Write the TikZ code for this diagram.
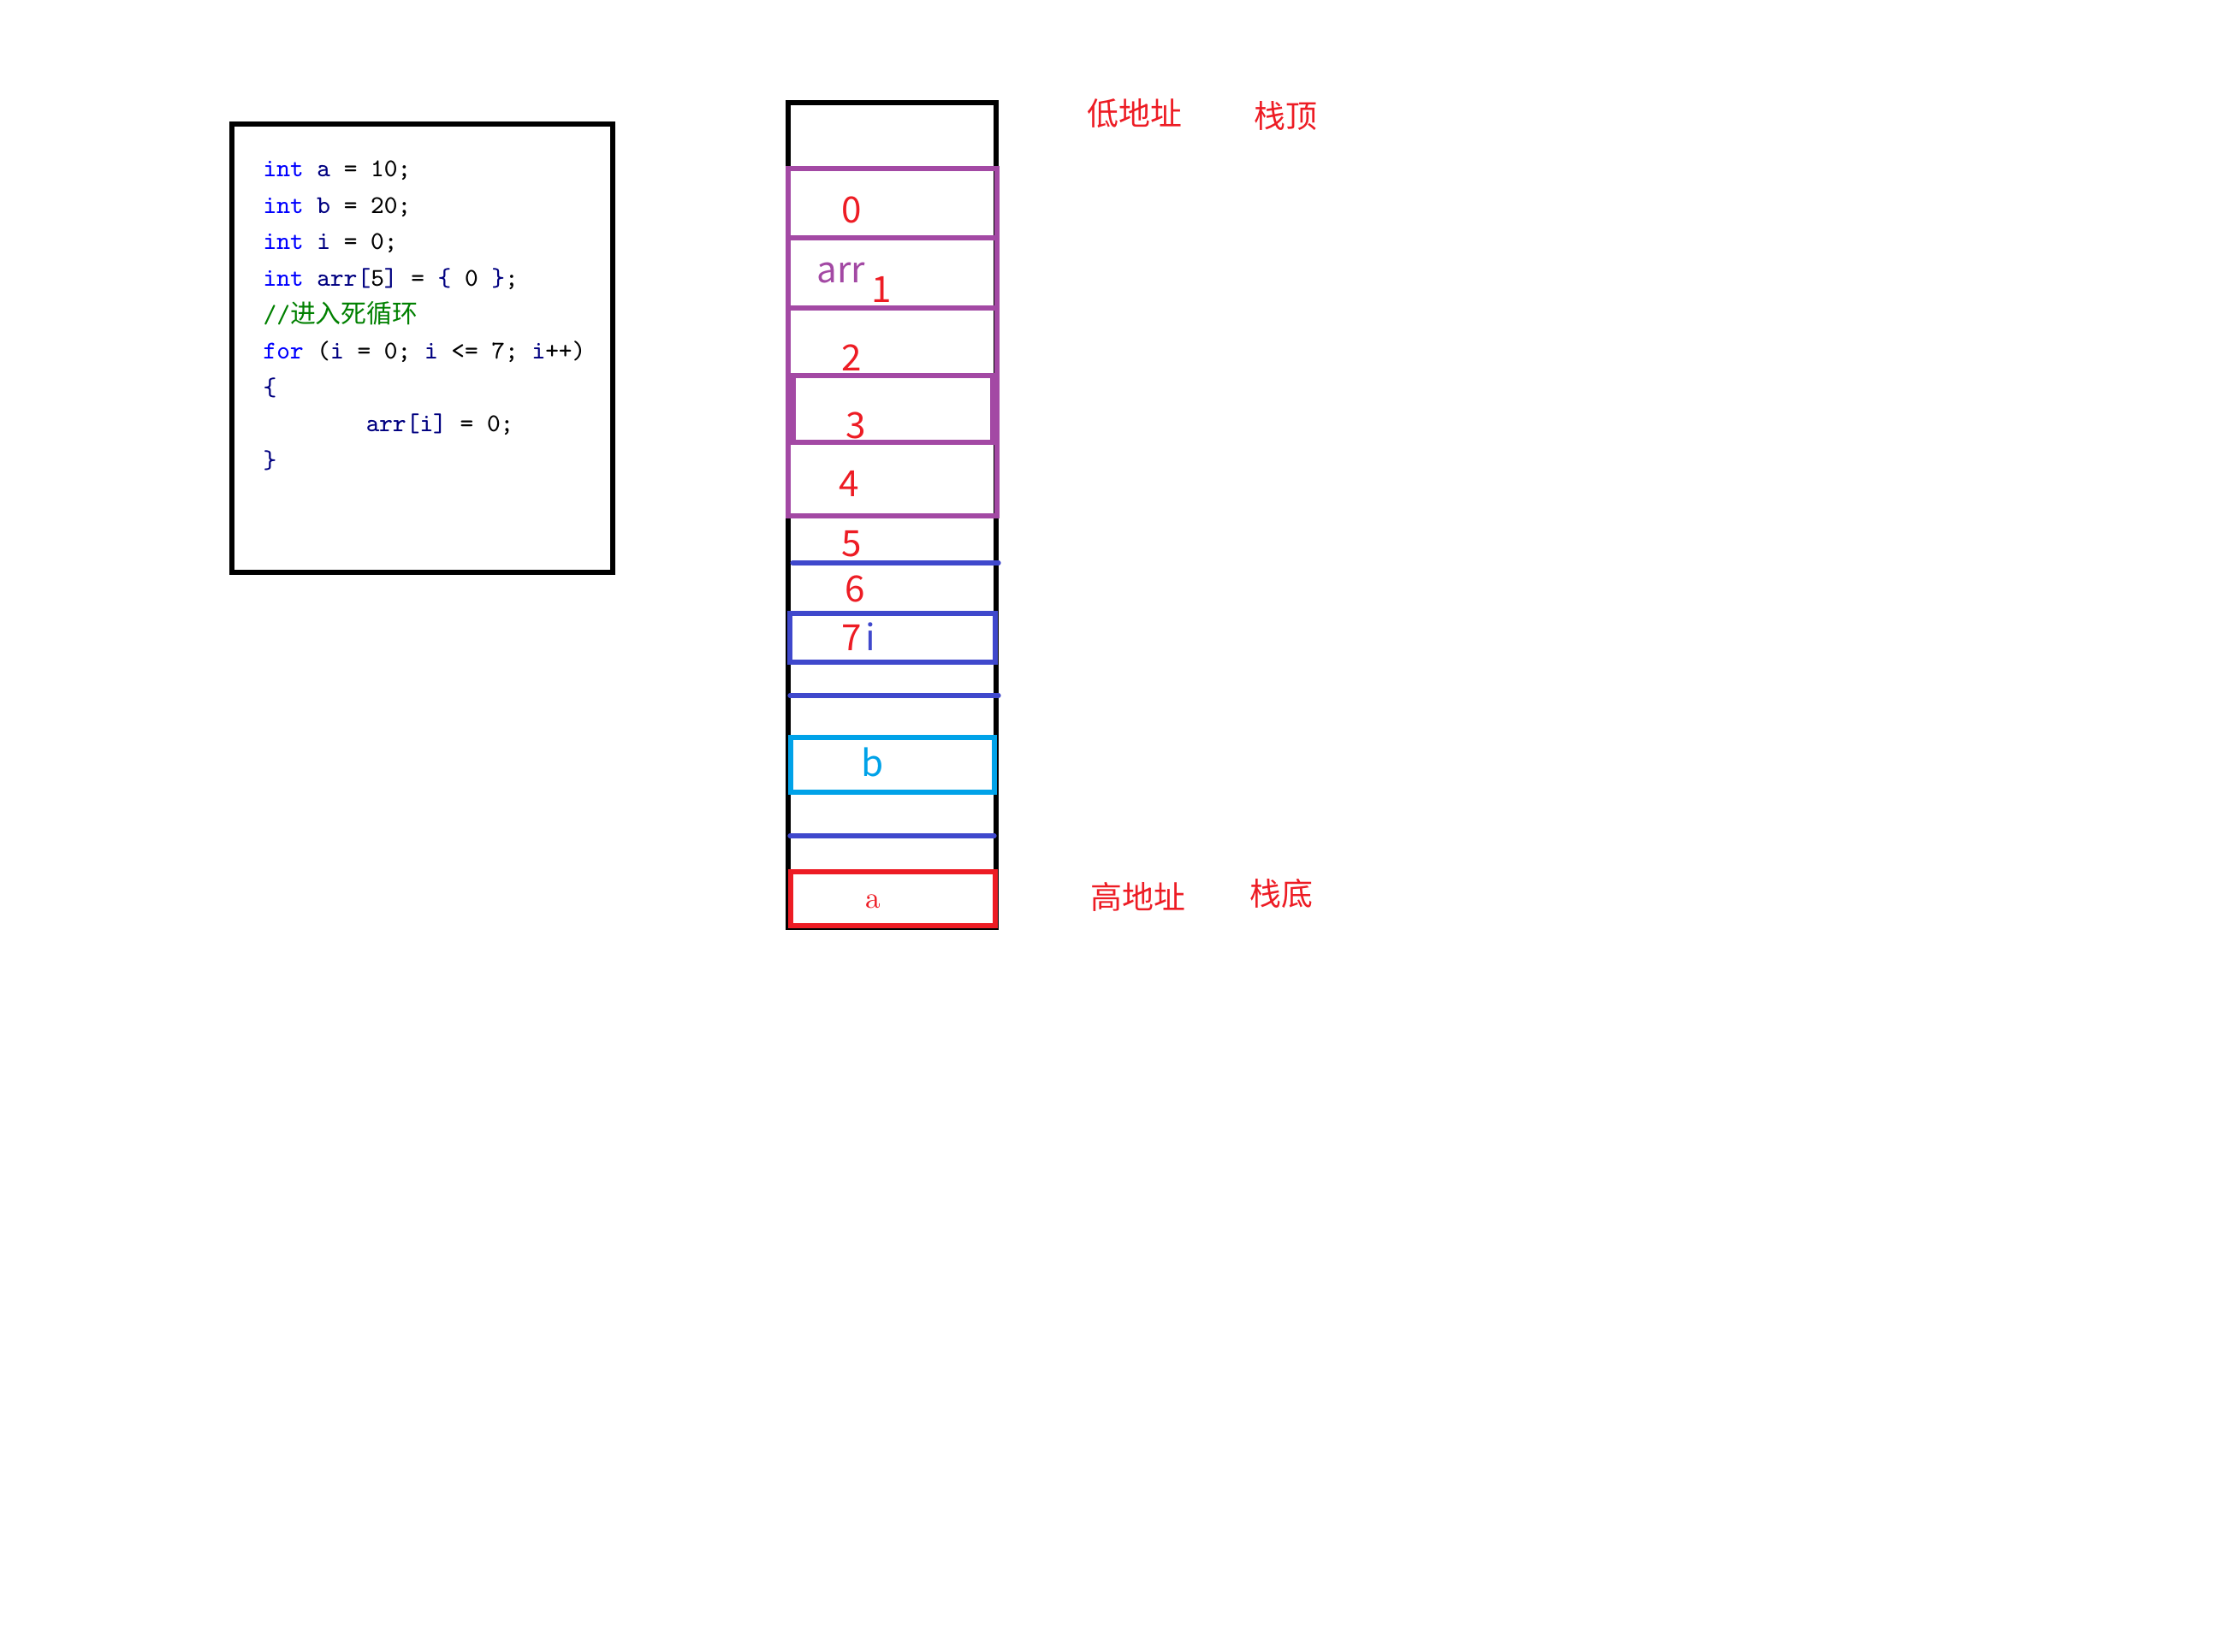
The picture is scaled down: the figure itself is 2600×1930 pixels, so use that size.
\documentclass[tikz,border=0pt]{standalone}
\usepackage{fontspec}
\usepackage{xcolor}
\usepackage{tikz}
\usetikzlibrary{matrix}
\usetikzlibrary{positioning}
\newfontfamily\cjk{Noto Sans CJK SC}
\definecolor{paintred}{HTML}{ED1C24}
\definecolor{paintpurple}{HTML}{A349A4}
\definecolor{paintindigo}{HTML}{3F48CC}
\definecolor{paintcyan}{HTML}{00A2E8}
\definecolor{kwblue}{HTML}{0000FF}
\definecolor{idnavy}{HTML}{000080}
\definecolor{cmtgreen}{HTML}{008000}
\tikzset{>=stealth}
\tikzset{
  codebox/.style={line width=1.6pt},
  stackbox/.style={line width=1.6pt},
  arrcell/.style={draw=paintpurple, line width=1.5pt},
  slotline/.style={draw=paintindigo, line width=1.5pt, line cap=round},
  bslot/.style={draw=paintcyan, line width=1.5pt},
  aslot/.style={draw=paintred, line width=1.5pt},
  idx/.style={font=\cjk\fontsize{12}{12}\selectfont, text=paintred, inner sep=0pt, anchor=base},
  tag/.style={font=\cjk\fontsize{10.5}{10.5}\selectfont, text=paintred, inner sep=0pt}
}

\begin{document}
\begin{tikzpicture}[x=0.01cm,y=-0.01cm]
\useasboundingbox (0,0) rectangle (2600,1930);

\draw[codebox] (271,145) rectangle (716,669);
\matrix (code) [matrix of nodes, anchor=north west, inner sep=0pt, row sep=0pt,
  nodes={anchor=base west, inner sep=0pt, text height=8pt, text depth=4.1pt,
         font=\ttfamily\fontsize{8.5}{12}\selectfont}] at (307,178)
{
  \textcolor{kwblue}{int} \textcolor{idnavy}{a} = 10; \\
  \textcolor{kwblue}{int} \textcolor{idnavy}{b} = 20; \\
  \textcolor{kwblue}{int} \textcolor{idnavy}{i} = 0; \\
  \textcolor{kwblue}{int} \textcolor{idnavy}{arr[}5\textcolor{idnavy}{]} = \textcolor{idnavy}{\{} 0 \textcolor{idnavy}{\}}; \\
  \textcolor{cmtgreen}{//{\cjk 进入死循环}} \\
  \textcolor{kwblue}{for} (\textcolor{idnavy}{i} = 0; \textcolor{idnavy}{i} <= 7; \textcolor{idnavy}{i}++) \\
  \textcolor{idnavy}{\{} \\
  \hspace*{1.2cm}\textcolor{idnavy}{arr[i]} = 0; \\
  \textcolor{idnavy}{\}} \\
};

\draw[stackbox] (921,120) rectangle (1164,1084);
\draw[arrcell] (921,197) rectangle (1165,603);
\foreach \yy in {278,360,439,517}
  \draw[arrcell] (921,\yy) -- (1165,\yy);
\draw[arrcell] (927,439) rectangle (1160,517);
\draw[slotline] (926,658) -- (1167,658);
\draw[slotline] (923,717) rectangle (1163,774);
\draw[slotline] (923,813) -- (1167,813);
\draw[bslot] (924,862) rectangle (1162,926);
\draw[slotline] (923,977) -- (1162,977);
\draw[aslot] (924,1019) rectangle (1163,1082);

\node[idx] (i0) at (995,260) {0};
\node[idx, text=paintpurple] (arrlbl) at (983,330) {arr};
\node[idx] (i1) at (1030,353) {1};
\node[idx] (i2) at (995,433) {2};
\node[idx] (i3) at (1000,512) {3};
\node[idx] (i4) at (992,580) {4};
\node[idx] (i5) at (995,650) {5};
\node[idx] (i6) at (999,703) {6};
\node[idx] (i7) at (995,760) {7};
\node[idx, text=paintindigo] (ilbl) at (1017,760) {i};
\node[idx, text=paintcyan] (blbl) at (1020,907) {b};
\node[text=paintred, font=\fontsize{10}{10}\selectfont, anchor=base, inner sep=0pt] (albl) at (1020,1061) {a};

\node[tag] (low) at (1326,133) {低地址};
\node[tag] (top) at (1502,136) {栈顶};
\node[tag] (high) at (1330,1048) {高地址};
\node[tag] (bottom) at (1497,1044) {栈底};
\end{tikzpicture}
\end{document}
